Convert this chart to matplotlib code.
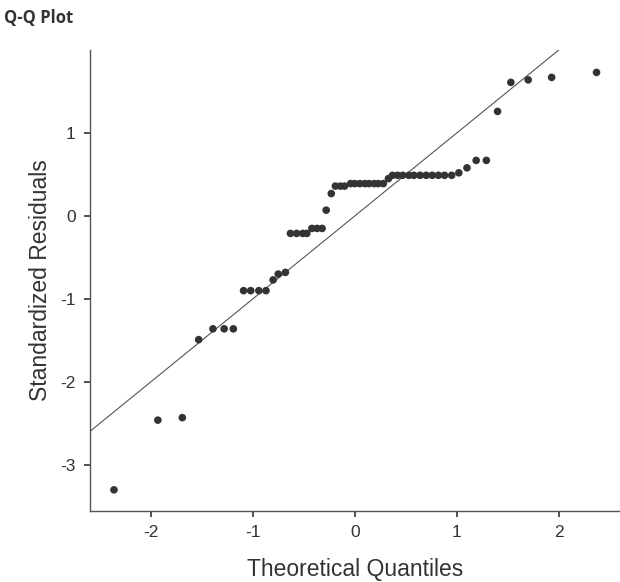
import matplotlib
matplotlib.use("Agg")
import matplotlib.pyplot as plt

# values
theoretical = [-2.36, -1.93, -1.69, -1.53, -1.39, -1.28, -1.19, -1.09, -1.02, -0.94,
               -0.87, -0.80, -0.75, -0.68, -0.63, -0.57, -0.51, -0.47, -0.42, -0.37,
               -0.32, -0.28, -0.23, -0.19, -0.14, -0.10, -0.04, 0.00, 0.05, 0.10,
               0.14, 0.19, 0.23, 0.28, 0.33, 0.37, 0.42, 0.47, 0.53, 0.58,
               0.64, 0.70, 0.76, 0.82, 0.88, 0.95, 1.02, 1.10, 1.19, 1.29,
               1.40, 1.53, 1.70, 1.93, 2.37]
residuals = [-3.30, -2.46, -2.43, -1.49, -1.36, -1.36, -1.36, -0.90, -0.90, -0.90,
             -0.90, -0.77, -0.70, -0.68, -0.21, -0.21, -0.21, -0.21, -0.15, -0.15,
             -0.15, 0.07, 0.27, 0.36, 0.36, 0.36, 0.39, 0.39, 0.39, 0.39,
             0.39, 0.39, 0.39, 0.39, 0.45, 0.49, 0.49, 0.49, 0.49, 0.49,
             0.49, 0.49, 0.49, 0.49, 0.49, 0.49, 0.52, 0.58, 0.67, 0.67,
             1.26, 1.61, 1.64, 1.67, 1.73]
xticks = [-2, -1, 0, 1, 2]
yticks = [-3, -2, -1, 0, 1]

plt.rcParams['font.family'] = ['Liberation Sans', 'DejaVu Sans']

fig = plt.figure(figsize=(6.2, 5.82), dpi=100)
ax = fig.add_axes([89.5 / 620, 1 - 511 / 582, 530.5 / 620, 461 / 582])

# reference line y = x
ax.axline((0, 0), slope=1, color='#555555', lw=0.8, zorder=1)
ax.scatter(theoretical, residuals, s=30, color='#333333', edgecolors='none', zorder=2)

ax.set_xlim(-2.6, 2.6)
ax.set_ylim(-3.555, 2.0)
ax.set_xticks(xticks)
ax.set_yticks(yticks)
ax.set_xticklabels([str(t) for t in xticks])
ax.set_yticklabels([str(t) for t in yticks])

for s in ['top', 'right']:
    ax.spines[s].set_visible(False)
for s in ['left', 'bottom']:
    ax.spines[s].set_color('#555555')
    ax.spines[s].set_linewidth(1.0)

ax.tick_params(axis='both', length=4, width=1.2, color='#333333',
               labelsize=12.5, labelcolor='#333333', pad=6)

ax.set_xlabel('Theoretical Quantiles', fontsize=16.5, color='#333333', labelpad=13)
ax.set_ylabel('Standardized Residuals', fontsize=16.5, color='#333333', labelpad=6)

fig.text(0.006, 0.985, 'Q-Q Plot', fontsize=12, fontweight='bold', color='#333333',
         family=['Open Sans', 'DejaVu Sans'], va='top', ha='left')

fig.savefig('out.png', dpi=100)
